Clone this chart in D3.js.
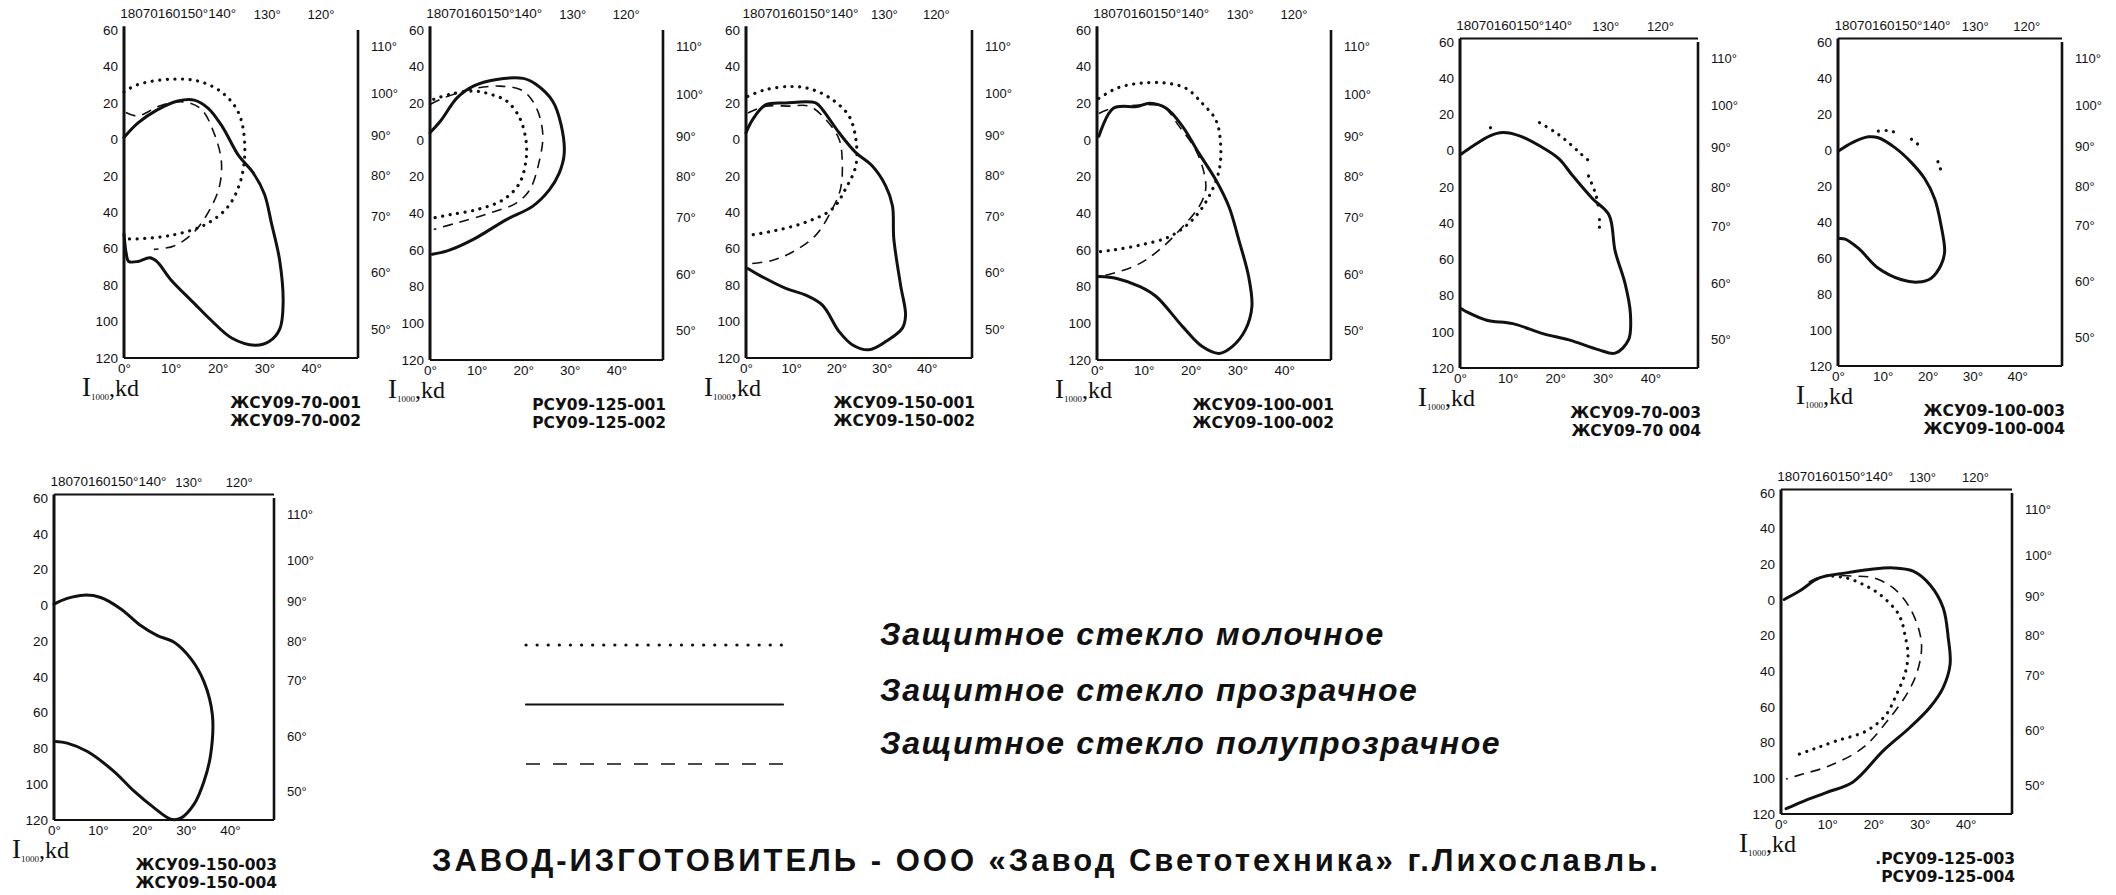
<!DOCTYPE html>
<html>
<head>
<meta charset="utf-8">
<script src="https://cdn.jsdelivr.net/npm/d3@7"></script>
<style>
  body { margin: 0; background: #fff; }
  svg text { font-family: "Liberation Sans", Arial, sans-serif; fill: #111; }
</style>
</head>
<body>
<svg id="chart" width="2116" height="895"></svg>
<script>
// --- shared axis labels ---
const leftTicks = [-60, -40, -20, 0, 20, 40, 60, 80, 100, 120];   // printed without sign
const bottomTicks = [0, 10, 20, 30, 40];
const rightTickLabels = ['110°', '100°', '90°', '80°', '70°', '60°', '50°'];
const rightTickValues = [-51, -25, -2, 20, 42, 73, 104];
const topCrammedLabels = ['180', '70', '160', '150°', '140°'];
const topTickLabels = ['130°', '120°'];
const topTickValues = [30.5, 42];

// --- curves, [x, I] pairs ---
const zsu70_001_solid = [[0,-1],[3,-9],[7,-16],[11.5,-21],[15,-21.5],[18,-17],[21,-7],[24.5,9],[27.5,18],[30,30],[31.5,46],[33.3,67],[34,90],[33.3,104],[31,111],[28,113],[23,109],[18.5,99],[15,90],[10,77],[7,67],[5.5,65],[3,67],[1,67],[0.5,63],[0,52]];
const zsu70_001_dotted = [[0,-26],[2.9,-30],[10,-33],[15.8,-32],[20.8,-26],[24.4,-15],[25.8,2.6],[25,22],[22.2,37],[17.2,47],[10,52.7],[2.9,54.6],[0.4,54.6]];
const zsu70_001_dashed = [[0.4,-14.7],[2.9,-12.8],[7.9,-18.6],[12.9,-20.5],[16.5,-16.6],[19.3,-3],[20.8,12],[20.4,25.7],[18.6,37.3],[15,50.8],[10.7,58.5],[6.4,60.4]];

const rsu125_001_solid = [[0,-4],[2.3,-10.5],[5.8,-23],[9.3,-29.4],[14.3,-33],[20,-33.6],[22.8,-30.3],[26.3,-21.3],[28.1,-8.7],[28.8,7.4],[27.7,18.2],[25.6,27.2],[22,36.2],[16.4,43.4],[9.3,54.2],[3.7,60.5],[0.5,62.3]];
const rsu125_001_dashed = [[0.1,-19.5],[3,-23],[8.6,-27.6],[15,-29.4],[20,-26.7],[22.8,-17.7],[24.2,-3.3],[23.5,11],[21.4,27.2],[18.5,34.4],[12.9,39.8],[5.8,45.2],[0.8,48.8]];
const rsu125_001_dotted = [[0.8,-22.2],[4.4,-25],[9.3,-26.7],[12.9,-25],[16.4,-21.3],[19.2,-12.3],[20.6,0.3],[20.6,11],[19.2,23.6],[15.7,32.6],[10,38],[4.4,40.7],[0.8,42.5]];

const zsu150_001_solid = [[0,-3.6],[1.5,-11],[4.4,-19],[8.8,-20],[15.4,-20],[16.9,-16.4],[20.6,-3.6],[24.3,7.3],[27.9,14.5],[30.9,25.5],[32.4,36.4],[32.7,54.5],[34.2,80],[35.3,96.4],[34.6,103.6],[30.9,111],[27.2,115.5],[23.5,112.7],[20.6,105.5],[16.9,91],[13.2,85.5],[8.8,81.8],[2.9,74.5],[0.4,70.9]];
const zsu150_001_dotted = [[0.4,-23.6],[4.4,-27.3],[10.3,-29],[14.7,-27.3],[19.1,-21.8],[22.8,-12.7],[24.3,0],[24.3,14.5],[22,27.3],[19.1,38.2],[13.2,45.5],[6.6,50],[0.7,52.7]];
const zsu150_001_dashed = [[0.4,-14.5],[4.4,-18.2],[9.6,-18.2],[14,-18.2],[17.6,-11],[20.6,0],[21.3,12.7],[20.9,27.3],[19.1,38.2],[15.4,52.7],[10.3,61.8],[5.9,66.4],[1.1,68.2]];

const zsu100_001_solid = [[0.4,-2],[3.5,-17.3],[8.5,-18.2],[11.3,-20],[14.8,-17.3],[18.3,-7.3],[21.8,7.3],[25.4,21.8],[28.2,36.4],[30.3,54.5],[32.4,74.5],[33.1,90.9],[31.7,103.6],[28.9,112.7],[26.1,116.4],[22.5,112.7],[18.3,101.8],[12.7,85.5],[9.2,80],[4.2,75.5],[0.4,74.5]];
const zsu100_001_dotted = [[0.4,-22.7],[4.2,-28.2],[9.2,-31],[14.8,-31],[19,-28.2],[22.5,-20],[25.4,-10.9],[26.4,1.8],[26.1,16.4],[23.9,30.9],[20.4,43.6],[15.5,52.7],[9.2,57.3],[3.5,60],[0.4,61]];
const zsu100_001_dashed = [[0.4,-14.5],[3.5,-17.5],[9.2,-19],[14.1,-18.2],[17.6,-7.3],[21.1,5.5],[22.9,18.2],[23.2,27.3],[21.8,36.4],[18.3,47.3],[14.1,58.2],[9.2,67.3],[3.5,72.7],[0.4,74.5]];

const zsu70_003_solid = [[0.3,1.8],[2.8,-2.7],[6.3,-8.2],[9,-10],[12.5,-8.2],[16.7,-2.7],[20.8,4.5],[23.6,13.6],[27.8,26.4],[31.3,35.5],[32.6,55.5],[34.7,73.6],[35.8,90],[35.4,104.5],[32.6,111.8],[29.2,110],[22.9,104.5],[17.4,101],[11.1,95.5],[5.6,93.6],[1.4,89],[0.3,87.3]];
const zsu70_003_dotted = [[[6.4,-12.6],[6.5,-12.8]], [[16.7,-15.5],[20.1,-10],[23,-4],[25.5,2],[27.5,6.5]], [[27,14],[28.5,24],[29.2,33]], [[29.3,38],[29.3,43]]];

const zsu100_003_solid = [[0.1,0.6],[3.1,-4],[6.8,-7.3],[9,-6.8],[12.7,-1.3],[16.4,7],[19.4,16.1],[21.6,27.2],[23,41.8],[23.8,56.5],[23,63.9],[20.8,71.2],[17.9,73.4],[14.2,72.1],[9,65.7],[4.6,54.7],[1.6,49.5],[0.1,49.2]];
const zsu100_003_dotted = [[[9,-10.5],[11.2,-10.8],[13.1,-9.5]], [[16.4,-6],[18.2,-2.5]], [[22.3,6.5],[23,11.5]]];

const zsu150_003_solid = [[0,-0.7],[3,-3.9],[6.8,-5.7],[10.6,-4.4],[15.2,2],[19.7,11.3],[23.5,16.9],[27.3,20.6],[31.1,29.8],[34.1,42.8],[36,61.3],[35.6,83.5],[34.1,98.3],[31.8,111.3],[28.8,119],[26.5,119.5],[22.7,113.1],[18.2,103.9],[13.6,92.8],[7.6,81.7],[3,77],[0.4,76.1]];

const rsu125_003_solid = [[0.7,-0.3],[4,-5],[8.3,-12.4],[14.1,-15.2],[19.2,-17.1],[24.3,-18],[28.6,-16.2],[32.2,-8.7],[35.1,4.4],[36.2,21.2],[36.6,36.1],[35.1,49.1],[32.2,60.3],[27.9,71.5],[22.1,84.6],[15.6,102],[9.8,108],[4.7,113],[1.1,117]];
const rsu125_003_dashed = [[6,-10],[9,-13.4],[15.6,-13.4],[19.9,-12.5],[24.3,-6.8],[27.9,4.4],[30.1,19.3],[30.4,28.6],[29.3,41.7],[27.2,52.9],[23.6,65.9],[17.8,82.7],[10.5,93],[4.7,97.6],[1.1,100.4]];
const rsu125_003_dotted = [[11.2,-13.4],[14.1,-12.4],[17.8,-8.7],[21.4,-3.1],[25,6.2],[26.1,11.8],[26.8,19.3],[27.5,30.5],[26.8,41.7],[25,52.9],[22.8,64.1],[18.5,73.4],[12,79],[6.9,83.7],[2.9,87.4]];

const legendLabels = ['Защитное стекло молочное', 'Защитное стекло прозрачное', 'Защитное стекло полупрозрачное'];
const legendKinds = ['dotted', 'solid', 'dashed'];
const footerText = 'ЗАВОД-ИЗГОТОВИТЕЛЬ - ООО «Завод Светотехника» г.Лихославль.';

// panel layout: pixel box for x 0..50 and I -60..120
const panels = [
  { box: [124, 358, 30, 358], top: false, captions: ['ЖСУ09-70-001', 'ЖСУ09-70-002'],
    curves: { solid: [zsu70_001_solid], dotted: [zsu70_001_dotted], dashed: [zsu70_001_dashed] } },
  { box: [430, 663, 30, 360], top: false, captions: ['РСУ09-125-001', 'РСУ09-125-002'],
    curves: { solid: [rsu125_001_solid], dotted: [rsu125_001_dotted], dashed: [rsu125_001_dashed] } },
  { box: [746, 972, 30, 358], top: false, captions: ['ЖСУ09-150-001', 'ЖСУ09-150-002'],
    curves: { solid: [zsu150_001_solid], dotted: [zsu150_001_dotted], dashed: [zsu150_001_dashed] } },
  { box: [1097, 1331, 30, 360], top: false, captions: ['ЖСУ09-100-001', 'ЖСУ09-100-002'],
    curves: { solid: [zsu100_001_solid], dotted: [zsu100_001_dotted], dashed: [zsu100_001_dashed] } },
  { box: [1460, 1698, 42, 368], top: true, captions: ['ЖСУ09-70-003', 'ЖСУ09-70 004'],
    curves: { solid: [zsu70_003_solid], dotted: zsu70_003_dotted, dashed: [] } },
  { box: [1838, 2062, 42, 366], top: true, captions: ['ЖСУ09-100-003', 'ЖСУ09-100-004'],
    curves: { solid: [zsu100_003_solid], dotted: zsu100_003_dotted, dashed: [] } },
  { box: [54, 274, 498, 820], top: true, captions: ['ЖСУ09-150-003', 'ЖСУ09-150-004'],
    curves: { solid: [zsu150_003_solid], dotted: [], dashed: [] } },
  { box: [1781, 2012, 493, 814], top: true, captions: ['.РСУ09-125-003', 'РСУ09-125-004'],
    curves: { solid: [rsu125_003_solid], dotted: [rsu125_003_dotted], dashed: [rsu125_003_dashed] } }
];

const strokeStyle = {
  solid:  { width: 3,   dash: null,      cap: 'round' },
  dotted: { width: 3.2, dash: '0.1,7.5', cap: 'round' },
  dashed: { width: 1.6, dash: '10,7',    cap: 'butt' }
};

const svg = d3.select('#chart');

panels.forEach((p) => {
  const [x0, x1, y0, y1] = p.box;
  const x = d3.scaleLinear().domain([0, 50]).range([x0, x1]);
  const y = d3.scaleLinear().domain([-60, 120]).range([y0, y1]);
  const g = svg.append('g');

  // frame lines
  g.append('line').attr('x1', x0).attr('x2', x0).attr('y1', y(-62)).attr('y2', y(120))
    .attr('stroke', '#111').attr('stroke-width', 3);
  g.append('line').attr('x1', x1).attr('x2', x1).attr('y1', y(-60)).attr('y2', y(120))
    .attr('stroke', '#111').attr('stroke-width', 2.6);
  g.append('line').attr('x1', x0).attr('x2', x1).attr('y1', y(120)).attr('y2', y(120))
    .attr('stroke', '#111').attr('stroke-width', 2);
  if (p.top) {
    g.append('line').attr('x1', x0).attr('x2', x1).attr('y1', y(-62)).attr('y2', y(-62))
      .attr('stroke', '#111').attr('stroke-width', 2);
  }

  // axes (labels only, frame drawn above)
  const left = g.append('g').attr('transform', `translate(${x0 - 3},0)`)
    .call(d3.axisLeft(y).tickValues(leftTicks).tickSize(0).tickFormat((d) => Math.abs(d)));
  left.selectAll('text').style('font-size', '13.5px');

  const bottom = g.append('g').attr('transform', `translate(0,${y1 + 2})`)
    .call(d3.axisBottom(x).tickValues(bottomTicks).tickSize(0).tickFormat((d) => d + '°'));
  bottom.selectAll('text').style('font-size', '13.5px');

  const right = g.append('g').attr('transform', `translate(${x1 + 10},0)`)
    .call(d3.axisRight(y).tickValues(rightTickValues).tickSize(0)
      .tickFormat((d, i) => rightTickLabels[i]));
  right.selectAll('text').style('font-size', '13px');

  const topAxis = g.append('g').attr('transform', `translate(0,${y0 - 8})`)
    .call(d3.axisTop(x).tickValues(topTickValues).tickSize(0)
      .tickFormat((d, i) => topTickLabels[i]));
  topAxis.selectAll('text').style('font-size', '13px');
  g.selectAll('.domain').remove();

  // crammed scale 180..140 printed as one run
  const crammed = g.append('text').attr('x', x(-0.8)).attr('y', y0 - 12)
    .style('font-size', '13.5px');
  crammed.selectAll('tspan').data(topCrammedLabels).enter().append('tspan').text((d) => d);

  // curves
  const line = d3.line().x((d) => x(d[0])).y((d) => y(d[1])).curve(d3.curveCatmullRom.alpha(0.5));
  ['dashed', 'dotted', 'solid'].forEach((kind) => {
    const s = strokeStyle[kind];
    g.selectAll('path.' + kind).data(p.curves[kind]).enter().append('path')
      .attr('class', kind)
      .attr('d', line)
      .attr('fill', 'none')
      .attr('stroke', '#111')
      .attr('stroke-width', s.width)
      .attr('stroke-linecap', s.cap)
      .attr('stroke-linejoin', 'round')
      .attr('stroke-dasharray', s.dash);
  });

  // I1000,kd
  const ilabel = g.append('text').attr('x', x0 - 42).attr('y', y1 + 38)
    .style('font-family', '"Liberation Serif", "DejaVu Serif", serif');
  ilabel.append('tspan').style('font-size', '27px').text('I');
  ilabel.append('tspan').style('font-size', '9px').attr('dy', 4).text('1000');
  ilabel.append('tspan').style('font-size', '24px').attr('dy', -4).text(',kd');

  // model captions
  g.selectAll('text.caption').data(p.captions).enter().append('text')
    .attr('class', 'caption')
    .attr('x', x1 + 3)
    .attr('y', (d, i) => y1 + 50 + i * 18)
    .attr('text-anchor', 'end')
    .style('font-family', '"DejaVu Sans", sans-serif')
    .style('font-weight', 'bold')
    .style('font-size', '15.5px')
    .text((d) => d);
});

// legend
const legendX = d3.scaleLinear().domain([0, 1]).range([526, 783]);
const legendY = d3.scalePoint().domain(legendKinds).range([645, 764]);
legendKinds.forEach((kind, i) => {
  const s = strokeStyle[kind];
  svg.append('line')
    .attr('x1', legendX(0)).attr('x2', legendX(1))
    .attr('y1', legendY(kind)).attr('y2', legendY(kind))
    .attr('stroke', '#111')
    .attr('stroke-width', kind === 'solid' ? 2.2 : s.width)
    .attr('stroke-linecap', s.cap)
    .attr('stroke-dasharray', kind === 'dotted' ? '0.1,11' : (kind === 'dashed' ? '14,13' : null));
  svg.append('text')
    .attr('x', 880)
    .attr('y', [645, 701, 754][i])
    .style('font-size', '32px')
    .style('font-weight', 'bold')
    .style('font-style', 'italic')
    .style('letter-spacing', '1.6px')
    .text(legendLabels[i]);
});

svg.append('text')
  .attr('x', 432).attr('y', 871)
  .style('font-size', '31px')
  .style('font-weight', 'bold')
  .style('letter-spacing', '3px')
  .text(footerText);
</script>
</body>
</html>
